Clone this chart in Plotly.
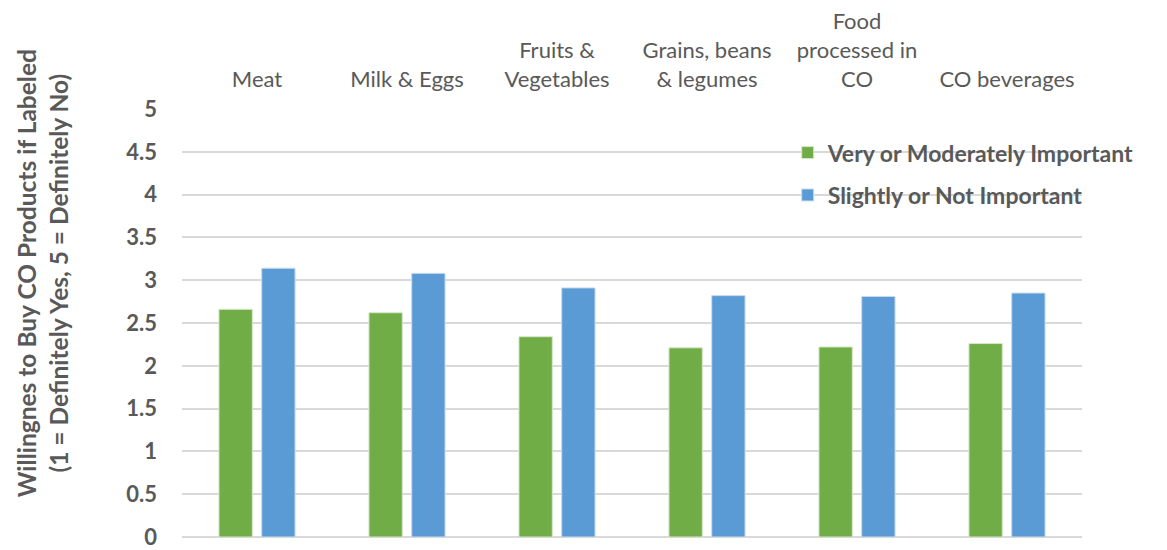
import plotly.graph_objects as go

categories = ["Meat", "Milk & Eggs", "Fruits &<br>Vegetables", "Grains, beans<br>& legumes",
              "Food<br>processed in<br>CO", "CO beverages"]
very_important = [2.66, 2.62, 2.34, 2.21, 2.22, 2.26]
slightly_important = [3.14, 3.08, 2.91, 2.82, 2.81, 2.85]
series_names = ["Very or Moderately Important", "Slightly or Not Important"]
y_ticks = [0, 0.5, 1, 1.5, 2, 2.5, 3, 3.5, 4, 4.5, 5]
y_title = "Willingnes to Buy CO Products if Labeled<br>(1 = Definitely Yes, 5 = Definitely No)"

GRAY = "#595959"
FONT = "Lato"

fig = go.Figure()
fig.add_trace(go.Bar(x=categories, y=very_important, name=series_names[0],
                     marker=dict(color="#70AD47", line=dict(color="#d5e8c8", width=1)),
                     legend="legend"))
fig.add_trace(go.Bar(x=categories, y=slightly_important, name=series_names[1],
                     marker=dict(color="#5B9BD5", line=dict(color="#c8dcf0", width=1)),
                     legend="legend2"))

fig.update_layout(
    width=1167, height=550,
    margin=dict(l=182, r=85, t=109, b=13, autoexpand=False),
    paper_bgcolor="white", plot_bgcolor="white",
    barmode="group", bargap=0.43, bargroupgap=0.22,
    showlegend=True,
    font=dict(family=FONT, color=GRAY),
    legend=dict(x=0.673, y=0.898, xanchor="left", yanchor="middle",
                font=dict(family=FONT, size=23, color=GRAY, weight="bold"),
                bgcolor="rgba(0,0,0,0)"),
    legend2=dict(x=0.673, y=0.799, xanchor="left", yanchor="middle",
                 font=dict(family=FONT, size=23, color=GRAY, weight="bold"),
                 bgcolor="rgba(0,0,0,0)"),
    xaxis=dict(side="top", showgrid=False, showline=False, ticks="",
               ticklabelstandoff=17,
               tickfont=dict(family=FONT, size=22, color=GRAY)),
    yaxis=dict(range=[0, 5], tickvals=y_ticks, ticktext=[f"{v:g}" for v in y_ticks],
               showgrid=True, gridcolor="#d9d9d9", gridwidth=1.5,
               zeroline=True, zerolinecolor="#d9d9d9", zerolinewidth=1.5,
               showline=False, ticks="", ticklabelstandoff=24,
               ticklabeloverflow="allow",
               tickfont=dict(family=FONT, size=22, color=GRAY, weight="bold")),
)

fig.add_annotation(text=y_title, xref="paper", yref="paper",
                   x=-0.155, y=0.615, xanchor="center", yanchor="middle",
                   textangle=-90, showarrow=False,
                   font=dict(family=FONT, size=24.5, color=GRAY, weight="bold"))

fig.write_html("out.html", config={"displayModeBar": False},
               post_script="document.body.style.margin='0';")
